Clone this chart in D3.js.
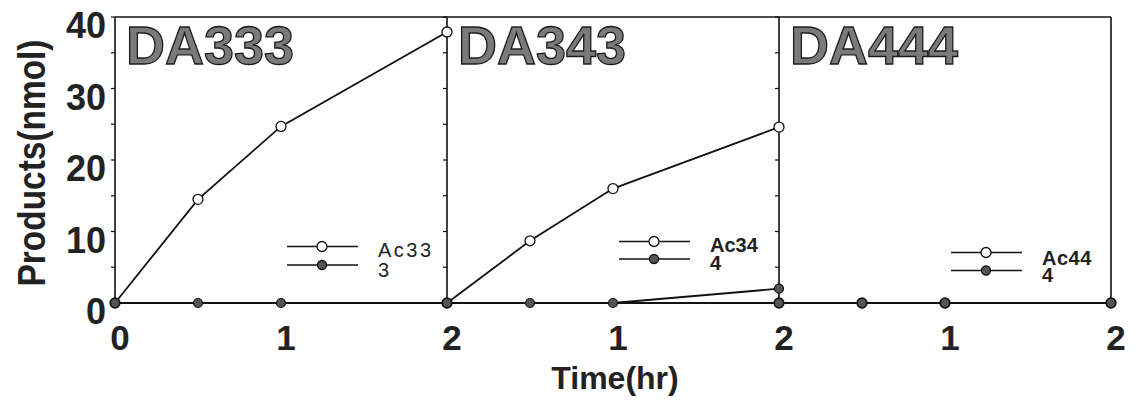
<!DOCTYPE html>
<html>
<head>
<meta charset="utf-8">
<script src="https://cdn.jsdelivr.net/npm/d3@7"></script>
<style>
  html, body { margin: 0; padding: 0; background: #fff; }
  svg { display: block; }
</style>
</head>
<body>
<svg id="chart" width="1135" height="400"></svg>
<script>
// Sample names, one panel each
const panelNames = ["DA333", "DA343", "DA444"];
// Legend labels per panel
const acLabels = ["Ac33", "Ac34", "Ac44"];
const productLabels = ["3", "4", "4"];
// Sampling times (hr)
const times = [0, 0.5, 1, 2];
// Acetylated product (open circles), nmol
const acValues = [
  [0, 14.5, 24.7, 37.9],
  [0, 8.7, 16.0, 24.6],
  [0, 0, 0, 0]
];
// Deacetylated product (filled circles), nmol
const productValues = [
  [0, 0, 0, 0],
  [0, 0, 0, 2.0],
  [0, 0, 0, 0]
];
const xTicks = [0, 1, 2];
const yTicks = [0, 10, 20, 30, 40];
const yMinorTicks = [5, 15, 25, 35];

const svg = d3.select("#chart");
const font = "'Liberation Sans', Arial, Helvetica, sans-serif";

const plotTop = 17, plotBottom = 303, firstLeft = 115, panelW = 332;
const y = d3.scaleLinear().domain([0, 40]).range([plotBottom, plotTop]);

const panelX = panelNames.map((_, i) =>
  d3.scaleLinear().domain([0, 2]).range([firstLeft + i * panelW, firstLeft + (i + 1) * panelW]));

const frame = svg.append("g");
const rightEdge = firstLeft + panelNames.length * panelW;

// Outer frame: top and baseline
frame.append("line").attr("x1", firstLeft).attr("x2", rightEdge)
  .attr("y1", plotTop).attr("y2", plotTop).attr("stroke", "#111").attr("stroke-width", 1.4);
frame.append("line").attr("x1", firstLeft).attr("x2", rightEdge + 2)
  .attr("y1", plotBottom).attr("y2", plotBottom).attr("stroke", "#111").attr("stroke-width", 2);

// Vertical panel borders with left-pointing ticks
[0, 1, 2, 3].forEach(i => {
  const xx = firstLeft + i * panelW;
  frame.append("line").attr("x1", xx).attr("x2", xx)
    .attr("y1", plotTop).attr("y2", plotBottom).attr("stroke", "#111").attr("stroke-width", 1.6);
  if (i < 3) {
    yTicks.concat(yMinorTicks).forEach(t => {
      frame.append("line").attr("x1", xx - 4).attr("x2", xx)
        .attr("y1", y(t)).attr("y2", y(t)).attr("stroke", "#111").attr("stroke-width", 1.2);
    });
  }
});

// Y tick labels
svg.append("g").selectAll("text").data(yTicks).join("text")
  .attr("x", 106).attr("y", d => y(d) + 21)
  .attr("text-anchor", "end")
  .attr("font-family", font).attr("font-weight", "bold").attr("font-size", 36)
  .attr("fill", "#222")
  .text(d => d);

// Y axis title
svg.append("text")
  .attr("transform", "translate(45,163) rotate(-90)")
  .attr("text-anchor", "middle")
  .attr("font-family", font).attr("font-weight", "bold").attr("font-size", 38)
  .attr("textLength", 247).attr("lengthAdjust", "spacingAndGlyphs")
  .attr("fill", "#222")
  .text("Products(nmol)");

// X axis title
svg.append("text")
  .attr("x", 615).attr("y", 389)
  .attr("text-anchor", "middle")
  .attr("font-family", font).attr("font-weight", "bold").attr("font-size", 32)
  .attr("fill", "#222")
  .text("Time(hr)");

const line = x => d3.line().x(d => x(d[0])).y(d => y(d[1]));

panelNames.forEach((name, i) => {
  const x = panelX[i];
  const g = svg.append("g");
  const left = x.range()[0];

  // X tick labels (the shared boundary label is drawn once)
  g.selectAll("text.xt").data(i === 0 ? xTicks : xTicks.slice(1)).join("text")
    .attr("class", "xt")
    .attr("x", d => x(d) + 5).attr("y", 350)
    .attr("text-anchor", "middle")
    .attr("font-family", font).attr("font-weight", "bold").attr("font-size", 35)
    .attr("fill", "#222")
    .text(d3.format("d"));

  // Panel title
  g.append("text")
    .attr("x", left + 11).attr("y", 64)
    .attr("font-family", font).attr("font-weight", "bold").attr("font-size", 54)
    .attr("fill", "#7a7a7a").attr("stroke", "#1a1a1a").attr("stroke-width", 1.3)
    .text(name);

  const acPts = times.map((t, k) => [t, acValues[i][k]]);
  const prPts = times.map((t, k) => [t, productValues[i][k]]);

  g.append("path").datum(acPts).attr("d", line(x))
    .attr("fill", "none").attr("stroke", "#111").attr("stroke-width", 1.8);
  g.append("path").datum(prPts).attr("d", line(x))
    .attr("fill", "none").attr("stroke", "#111").attr("stroke-width", 1.8);

  g.selectAll("circle.ac").data(acPts).join("circle")
    .attr("class", "ac")
    .attr("cx", d => x(d[0])).attr("cy", d => y(d[1])).attr("r", 5)
    .attr("fill", "#fff").attr("stroke", "#111").attr("stroke-width", 1.3);
  g.selectAll("circle.pr").data(prPts).join("circle")
    .attr("class", "pr")
    .attr("cx", d => x(d[0])).attr("cy", d => y(d[1])).attr("r", 4.5)
    .attr("fill", "#555").attr("stroke", "#111").attr("stroke-width", 1.2);
});

// Legends
const legendRows = [
  { dy: [246.5, 265], base: [257, 277], weight: "normal", spacing: 2.5 },
  { dy: [241.5, 259], base: [252, 270], weight: "bold", spacing: 0 },
  { dy: [252.5, 270.5], base: [265, 282], weight: "bold", spacing: 0.5 }
];
legendRows.forEach((L, i) => {
  const left = panelX[i].range()[0];
  const g = svg.append("g");
  [0, 1].forEach(r => {
    g.append("line").attr("x1", left + 172).attr("x2", left + 243)
      .attr("y1", L.dy[r]).attr("y2", L.dy[r]).attr("stroke", "#111").attr("stroke-width", 1.6);
    g.append("circle").attr("cx", left + 207).attr("cy", L.dy[r])
      .attr("r", r === 0 ? 5 : 4.5)
      .attr("fill", r === 0 ? "#fff" : "#555").attr("stroke", "#111").attr("stroke-width", 1.3);
    g.append("text").attr("x", left + 263).attr("y", L.base[r])
      .attr("font-family", font).attr("font-weight", L.weight).attr("font-size", 20)
      .attr("letter-spacing", L.spacing)
      .attr("fill", "#222")
      .text(r === 0 ? acLabels[i] : productLabels[i]);
  });
});
</script>
</body>
</html>
